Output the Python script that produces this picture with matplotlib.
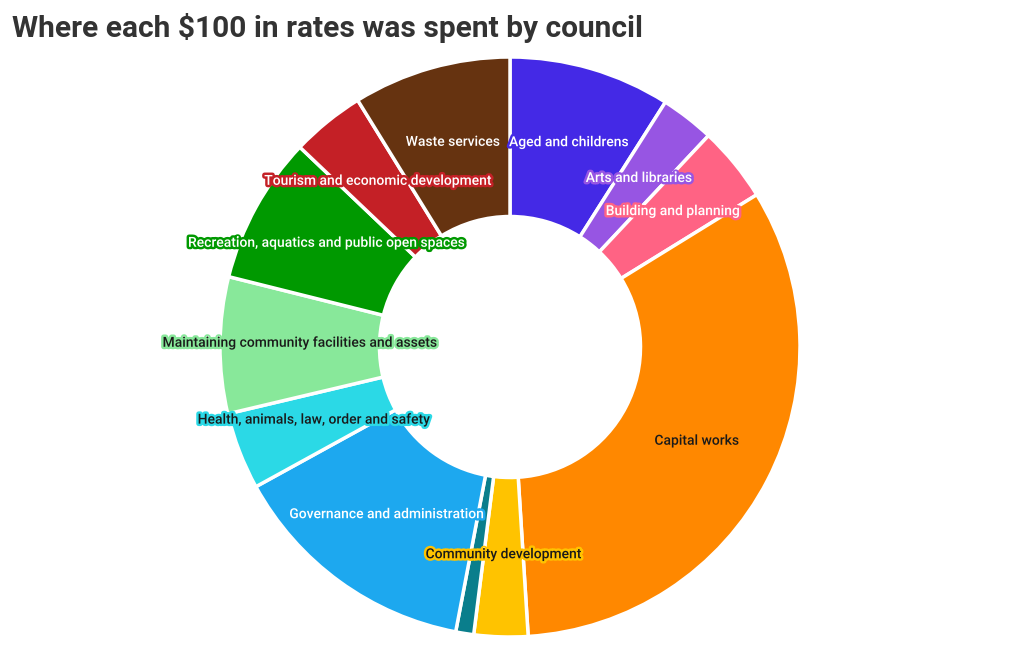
"""
Donut chart: where each $100 in rates was spent by council.
"""
import matplotlib.pyplot as plt
import matplotlib.patheffects as pe
import numpy as np

categories = [
    "Aged and childrens",
    "Arts and libraries",
    "Building and planning",
    "Capital works",
    "Community development",
    "Other",
    "Governance and administration",
    "Health, animals, law, order and safety",
    "Maintaining community facilities and assets",
    "Recreation, aquatics and public open spaces",
    "Tourism and economic development",
    "Waste services",
]
dollars = [9.0, 3.0, 4.2, 32.8, 3.0, 1.0, 14.0, 4.3, 7.6, 8.2, 4.1, 8.8]
colors = [
    "#4429E6", "#9755E3", "#FF6384", "#FF8800", "#FFC300", "#0A7E8C",
    "#1DA8EF", "#2BD9E6", "#88E89A", "#009900", "#C42026", "#663310",
]
text_colors = [
    "white", "white", "white", "#1a1a1a", "#1a1a1a", "white",
    "white", "#1a1a1a", "#1a1a1a", "white", "white", "white",
]

plt.rcParams["font.family"] = ["Roboto", "DejaVu Sans"]

fig = plt.figure(figsize=(10.2, 6.5), dpi=100)
fig.patch.set_facecolor("white")

# axes placed so the ring is centred at (510, 347) px with radius 290 px
ax = fig.add_axes([220 / 1020, 13 / 650, 580 / 1020, 580 / 650])

inner = 0.45
wedges, _ = ax.pie(
    dollars,
    colors=colors,
    startangle=90,
    counterclock=False,
    radius=1.0,
    wedgeprops=dict(width=1 - inner, edgecolor="white", linewidth=2.5,
                    joinstyle="round"),
)
ax.set_xlim(-1, 1)
ax.set_ylim(-1, 1)
ax.set_aspect("equal")
ax.axis("off")

# labels at the middle of each ring segment, with a halo in slice colour
total = sum(dollars)
r_mid = (1 + inner) / 2
cum = 0.0
for name, val, col, tcol in zip(categories, dollars, colors, text_colors):
    mid = cum + val / 2
    cum += val
    if val <= 1:
        continue  # too thin to label
    ang = np.deg2rad(90 - mid / total * 360)
    ax.text(r_mid * np.cos(ang), r_mid * np.sin(ang) + 0.01, name,
            ha="center", va="center", fontsize=10, fontweight="medium",
            color=tcol,
            path_effects=[pe.withStroke(linewidth=3.5, foreground=col)])

fig.text(12 / 1020, 1 - 28 / 650, "Where each $100 in rates was spent by council",
         ha="left", va="center", fontsize=21.5, fontweight="bold", color="#333333")

fig.savefig("out.png", dpi=100)
